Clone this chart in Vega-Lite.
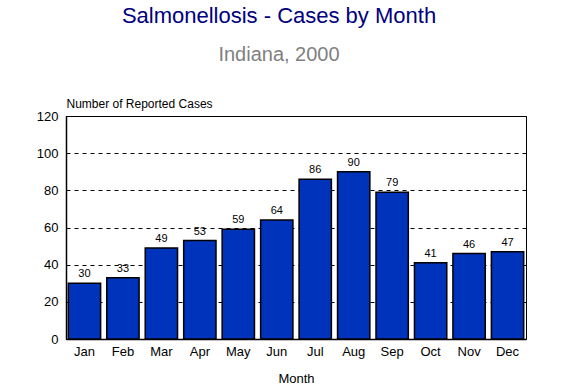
{
  "$schema": "https://vega.github.io/schema/vega-lite/v6.json",
  "width": 460,
  "height": 223,
  "autosize": {"type": "none"},
  "padding": {"left": 66, "top": 116, "right": 35, "bottom": 50},
  "background": "white",
  "title": {
    "text": "Salmonellosis - Cases by Month",
    "subtitle": "Indiana, 2000",
    "font": "Liberation Sans",
    "fontSize": 22,
    "fontWeight": "normal",
    "color": "#000080",
    "subtitleFont": "Liberation Sans",
    "subtitleFontSize": 20,
    "subtitleColor": "#808080",
    "subtitlePadding": 17,
    "anchor": "middle",
    "frame": "group",
    "dx": -17,
    "offset": 31
  },
  "data": {
    "values": [
      {"month": "Jan", "cases": 30},
      {"month": "Feb", "cases": 33},
      {"month": "Mar", "cases": 49},
      {"month": "Apr", "cases": 53},
      {"month": "May", "cases": 59},
      {"month": "Jun", "cases": 64},
      {"month": "Jul", "cases": 86},
      {"month": "Aug", "cases": 90},
      {"month": "Sep", "cases": 79},
      {"month": "Oct", "cases": 41},
      {"month": "Nov", "cases": 46},
      {"month": "Dec", "cases": 47}
    ]
  },
  "encoding": {
    "x": {
      "field": "month",
      "type": "nominal",
      "sort": null,
      "scale": {"paddingInner": 0.16, "paddingOuter": 0.06},
      "axis": {
        "title": "Month",
        "labelAngle": 0,
        "labelFont": "Liberation Sans",
        "labelFontSize": 13,
        "labelColor": "black",
        "labelPadding": 6,
        "titleFont": "Liberation Sans",
        "titleFontSize": 13,
        "titleFontWeight": "normal",
        "titleColor": "black",
        "titlePadding": 14,
        "ticks": false,
        "domainColor": "black",
        "domainWidth": 1.5
      }
    },
    "y": {
      "field": "cases",
      "type": "quantitative",
      "scale": {"domain": [0, 120]},
      "axis": {
        "title": "Number of Reported Cases",
        "values": [0, 20, 40, 60, 80, 100, 120],
        "titleAngle": 0,
        "titleAlign": "left",
        "titleBaseline": "bottom",
        "titleX": 0,
        "titleY": -6,
        "titleFont": "Liberation Sans",
        "titleFontSize": 12,
        "titleFontWeight": "normal",
        "titleColor": "black",
        "labelFont": "Liberation Sans",
        "labelFontSize": 13,
        "labelColor": "black",
        "labelPadding": 8,
        "ticks": false,
        "domainColor": "black",
        "domainWidth": 1.5,
        "grid": true,
        "gridColor": "black",
        "gridDash": [4, 4],
        "gridWidth": 1
      }
    }
  },
  "layer": [
    {
      "mark": {"type": "bar", "color": "#0033BB", "stroke": "black", "strokeWidth": 1.5}
    },
    {
      "mark": {"type": "text", "baseline": "bottom", "dy": -4, "font": "Liberation Sans", "fontSize": 11, "color": "black"},
      "encoding": {"text": {"field": "cases", "type": "quantitative"}}
    }
  ],
  "config": {
    "view": {"stroke": "black", "strokeWidth": 1}
  }
}
